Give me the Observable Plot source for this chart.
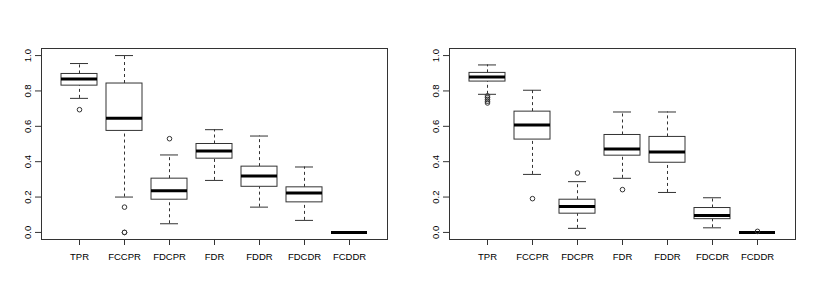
<!DOCTYPE html>
<html>
<head>
<meta charset="utf-8">
<script src="https://cdn.jsdelivr.net/npm/d3@7"></script>
<script src="https://cdn.jsdelivr.net/npm/@observablehq/plot@0.6"></script>
<style>
  html, body { margin: 0; padding: 0; background: #fff; }
  #wrap { display: flex; width: 817px; height: 300px; }
  svg { font-family: "Liberation Sans", Arial, sans-serif; }
</style>
</head>
<body>
<div id="wrap"></div>
<script>
const categories = ["TPR", "FCCPR", "FDCPR", "FDR", "FDDR", "FDCDR", "FCDDR"];
const yTicks = [0, 0.2, 0.4, 0.6, 0.8, 1.0];

// Left panel box statistics
const leftLower  = [0.758, 0.200, 0.049, 0.294, 0.143, 0.068, 0.000];
const leftQ1     = [0.830, 0.574, 0.185, 0.417, 0.258, 0.170, 0.000];
const leftMedian = [0.868, 0.645, 0.236, 0.460, 0.319, 0.223, 0.000];
const leftQ3     = [0.896, 0.842, 0.304, 0.500, 0.372, 0.255, 0.000];
const leftUpper  = [0.955, 1.000, 0.438, 0.581, 0.545, 0.370, 0.000];
const leftOutliers = [[0.694], [0.143, 0.0, 0.0], [0.530], [], [], [], []];

// Right panel box statistics
const rightLower  = [0.781, 0.328, 0.023, 0.306, 0.226, 0.026, 0.000];
const rightQ1     = [0.853, 0.525, 0.106, 0.434, 0.394, 0.075, 0.000];
const rightMedian = [0.879, 0.608, 0.147, 0.472, 0.455, 0.096, 0.000];
const rightQ3     = [0.902, 0.683, 0.185, 0.551, 0.540, 0.138, 0.000];
const rightUpper  = [0.947, 0.804, 0.287, 0.681, 0.681, 0.196, 0.000];
const rightOutliers = [[0.772, 0.762, 0.752, 0.742, 0.732], [0.191], [0.336], [0.242], [], [], [0.006]];

function panel(lower, q1, med, q3, upper, outliers, width, marginRight) {
  const rows = categories.map((c, i) => ({cat: c, lower: lower[i], q1: q1[i], med: med[i], q3: q3[i], upper: upper[i]}));
  const outRows = [];
  categories.forEach((c, i) => outliers[i].forEach(v => outRows.push({cat: c, v})));
  const ink = "#333";
  return Plot.plot({
    width, height: 300,
    marginLeft: 41, marginRight, marginTop: 48, marginBottom: 61,
    style: {fontFamily: "Liberation Sans, Arial, sans-serif", fontSize: "9.5px", color: "#000", background: "#fff"},
    x: {type: "band", domain: categories, paddingInner: 0.2, paddingOuter: 0.38, label: null},
    y: {domain: [-0.04, 1.04], label: null},
    marks: [
      Plot.ruleX(rows, {x: "cat", y1: "q3", y2: "upper", stroke: ink, strokeDasharray: "3,3"}),
      Plot.ruleX(rows, {x: "cat", y1: "lower", y2: "q1", stroke: ink, strokeDasharray: "3,3"}),
      Plot.tickY(rows, {x: "cat", y: "upper", stroke: ink, insetLeft: 9, insetRight: 9}),
      Plot.tickY(rows, {x: "cat", y: "lower", stroke: ink, insetLeft: 9, insetRight: 9}),
      Plot.barY(rows, {x: "cat", y1: "q1", y2: "q3", fill: "#fff", stroke: ink, strokeWidth: 1}),
      Plot.tickY(rows, {x: "cat", y: "med", stroke: "#000", strokeWidth: 3}),
      Plot.dot(outRows, {x: "cat", y: "v", r: 2.3, stroke: ink, fill: "none", strokeWidth: 1}),
      Plot.frame({stroke: ink}),
      Plot.axisY(yTicks, {tickSize: 6, tickPadding: 5, tickFormat: d3.format(".1f"), tickRotate: -90, stroke: ink, fill: "#000"}),
      Plot.axisX({tickSize: 6, tickPadding: 8, stroke: ink, fill: "#000"})
    ]
  });
}

const wrap = document.getElementById("wrap");
wrap.appendChild(panel(leftLower, leftQ1, leftMedian, leftQ3, leftUpper, leftOutliers, 408, 21));
wrap.appendChild(panel(rightLower, rightQ1, rightMedian, rightQ3, rightUpper, rightOutliers, 409, 22));
</script>
</body>
</html>
